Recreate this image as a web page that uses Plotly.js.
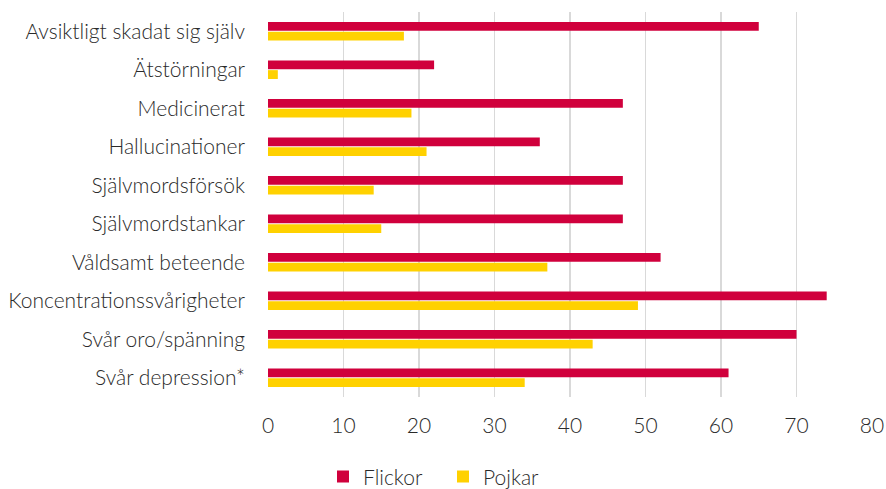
<!DOCTYPE html>
<html><head><meta charset="utf-8">
<script src="https://cdn.plot.ly/plotly-3.0.1.min.js"></script>
<style>body{margin:0;background:#fff}#c{width:886px;height:489px}</style>
</head><body><div id="c"></div>
<script>
const categories = ["Avsiktligt skadat sig själv","Ätstörningar","Medicinerat","Hallucinationer","Självmordsförsök","Självmordstankar","Våldsamt beteende","Koncentrationssvårigheter","Svår oro/spänning","Svår depression*"];
const flickor = [65, 22, 47, 36, 47, 47, 52, 74, 70, 61];
const pojkar = [18, 1.3, 19, 21, 14, 15, 37, 49, 43, 34];
const xTicks = [0,10,20,30,40,50,60,70,80];

const font = {family: "Lato, 'Open Sans', sans-serif", size: 21, color: "#2a2a2a", weight: 300};
const data = [
  {type:"bar", orientation:"h", name:"Flickor", y:categories, x:flickor, marker:{color:"#D0003C"}},
  {type:"bar", orientation:"h", name:"Pojkar", y:categories, x:pojkar, marker:{color:"#FFD100"}}
];
const layout = {
  width:886, height:489,
  margin:{l:268, r:14, t:12, b:92, autoexpand:false},
  barmode:"group", bargap:0.5, bargroupgap:0.08,
  paper_bgcolor:"#fff", plot_bgcolor:"#fff",
  font: font,
  xaxis:{range:[0,80], tickvals:xTicks, showgrid:true, gridcolor:"#d9d9d9", gridwidth:1.5,
         zeroline:false, showline:false, ticks:"", ticklabelstandoff:14, tickfont:font, fixedrange:true, automargin:false},
  yaxis:{autorange:"reversed", type:"category", showgrid:false, zeroline:false, showline:false,
         ticks:"", ticklabelstandoff:22, tickfont:font, automargin:false},
  legend:{orientation:"h", x:0.5, xanchor:"center", xref:"container", y:0.025, yanchor:"middle", yref:"container",
          font:font, traceorder:"normal", itemwidth:30, entrywidth:75},
  showlegend:true
};
Plotly.newPlot("c", data, layout, {displayModeBar:false, staticPlot:true});
</script></body></html>
